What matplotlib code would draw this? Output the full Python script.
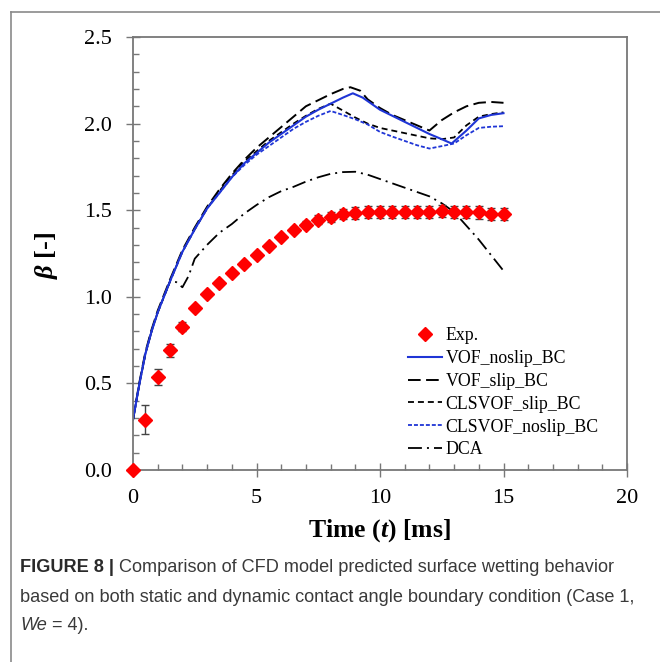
import matplotlib
matplotlib.use("Agg")
import matplotlib.pyplot as plt
from matplotlib.lines import Line2D

plt.rcParams['font.family'] = ['Liberation Serif', 'DejaVu Serif']
plt.rcParams['mathtext.fontset'] = 'custom'
plt.rcParams['mathtext.rm'] = 'Liberation Serif'
plt.rcParams['mathtext.it'] = 'Liberation Serif:italic'
plt.rcParams['mathtext.bf'] = 'Liberation Serif:bold'
plt.rcParams['mathtext.bfit'] = 'Liberation Serif:italic:bold'

# experimental data (beta vs time in ms)
t_exp = [0, 0.5, 1, 1.5, 2, 2.5, 3, 3.5, 4, 4.5, 5, 5.5, 6, 6.5, 7, 7.5, 8,
         8.5, 9, 9.5, 10, 10.5, 11, 11.5, 12, 12.5, 13, 13.5, 14, 14.5, 15]
beta_exp = [0.0, 0.29, 0.535, 0.69, 0.827, 0.933, 1.015, 1.077, 1.135, 1.192,
            1.244, 1.292, 1.344, 1.388, 1.415, 1.446, 1.462, 1.477, 1.485,
            1.488, 1.488, 1.488, 1.492, 1.492, 1.492, 1.496, 1.49, 1.492,
            1.487, 1.48, 1.477]
err_exp = [0.0, 0.085, 0.047, 0.037, 0.026, 0.012, 0.01, 0.01, 0.01, 0.01,
           0.01, 0.012, 0.012, 0.015, 0.02, 0.025, 0.028, 0.03, 0.035, 0.035,
           0.035, 0.035, 0.035, 0.035, 0.035, 0.035, 0.035, 0.035, 0.035,
           0.035, 0.035]

# model curves
t_vof_noslip = [0, 0.25, 0.5, 0.75, 1, 1.5, 2, 2.5, 3, 3.5, 4, 4.5, 5, 5.5, 6,
                6.5, 7, 7.5, 8, 8.5, 8.9, 9.3, 10, 10.5, 11, 11.5, 12, 12.5,
                12.9, 13.5, 14, 14.5, 15]
vof_noslip = [0.29, 0.49, 0.67, 0.80, 0.91, 1.09, 1.26, 1.39, 1.51, 1.60, 1.69,
              1.77, 1.83, 1.89, 1.94, 1.99, 2.04, 2.08, 2.115, 2.15, 2.175,
              2.15, 2.08, 2.045, 2.01, 1.975, 1.94, 1.91, 1.885, 1.96, 2.03,
              2.05, 2.06]

t_vof_slip = [0, 0.25, 0.5, 0.75, 1, 1.5, 2, 2.5, 3, 3.5, 4, 4.5, 5, 5.5, 6,
              6.5, 7, 7.5, 8, 8.5, 8.8, 9.2, 9.5, 10, 10.5, 11, 11.5, 12, 12.5,
              13, 13.5, 14, 14.5, 15]
vof_slip = [0.29, 0.50, 0.68, 0.81, 0.92, 1.10, 1.27, 1.40, 1.52, 1.62, 1.71,
            1.79, 1.86, 1.92, 1.98, 2.04, 2.10, 2.135, 2.17, 2.20, 2.21, 2.19,
            2.14, 2.09, 2.05, 2.02, 1.99, 1.96, 2.02, 2.065, 2.10, 2.12, 2.125,
            2.12]

t_clsvof_slip = [0, 0.25, 0.5, 0.75, 1, 1.5, 2, 2.5, 3, 3.5, 4, 4.5, 5, 5.5,
                 6, 6.5, 7, 7.5, 8, 8.5, 9, 9.5, 10, 10.5, 11, 11.5, 12, 12.5,
                 13, 13.5, 14, 14.5, 15]
clsvof_slip = [0.29, 0.49, 0.67, 0.80, 0.91, 1.09, 1.26, 1.39, 1.51, 1.61,
               1.70, 1.78, 1.84, 1.90, 1.95, 2.00, 2.045, 2.085, 2.115, 2.075,
               2.035, 2.0, 1.975, 1.96, 1.945, 1.93, 1.915, 1.91, 1.92, 1.99,
               2.04, 2.055, 2.065]

t_clsvof_noslip = [0, 0.25, 0.5, 0.75, 1, 1.5, 2, 2.5, 3, 3.5, 4, 4.5, 5, 5.5,
                   6, 6.5, 7, 7.5, 8, 8.5, 9, 9.5, 10, 10.5, 11, 11.5, 12,
                   12.5, 13, 13.5, 14, 14.5, 15]
clsvof_noslip = [0.29, 0.49, 0.67, 0.80, 0.91, 1.09, 1.26, 1.39, 1.51, 1.60,
                 1.69, 1.76, 1.82, 1.87, 1.92, 1.97, 2.01, 2.045, 2.073, 2.05,
                 2.025, 1.995, 1.952, 1.925, 1.90, 1.875, 1.856, 1.87, 1.885,
                 1.933, 1.975, 1.982, 1.985]

t_dca = [0, 0.25, 0.5, 0.75, 1, 1.5, 1.75, 2, 2.25, 2.5, 3, 3.5, 4, 4.5, 5,
         5.5, 6, 6.5, 7, 7.5, 8, 8.5, 9, 9.5, 10, 10.5, 11, 11.5, 12, 12.5, 13,
         13.5, 14, 14.5, 15]
dca = [0.29, 0.49, 0.67, 0.80, 0.91, 1.09, 1.085, 1.055, 1.12, 1.22, 1.30,
       1.37, 1.42, 1.48, 1.53, 1.575, 1.61, 1.635, 1.665, 1.69, 1.71, 1.72,
       1.722, 1.705, 1.68, 1.655, 1.63, 1.605, 1.58, 1.54, 1.49, 1.41, 1.33,
       1.24, 1.15]

blue = '#1f35d6'
grey = '#777777'

fig = plt.figure(figsize=(6.6, 6.62), dpi=100)
ax = fig.add_axes([133 / 660, 1 - 470 / 662, 494 / 660, 433 / 662])

ax.plot(t_dca, dca, color='black', lw=1.3, dashes=(7.7, 2.8, 1.1, 2.8))
ax.plot(t_clsvof_slip, clsvof_slip, color='black', lw=1.3, dashes=(3.3, 2.2))
ax.plot(t_vof_slip, vof_slip, color='black', lw=1.4, dashes=(6.5, 2.8))
ax.plot(t_clsvof_noslip, clsvof_noslip, color=blue, lw=1.3, dashes=(2.2, 1.1))
ax.plot(t_vof_noslip, vof_noslip, color=blue, lw=1.5)
ax.errorbar(t_exp, beta_exp, yerr=err_exp, fmt='D', color='red', ms=7,
            ecolor='#444444', elinewidth=1, capsize=3, capthick=1,
            zorder=5, clip_on=False)

ax.set_xlim(0, 20)
ax.set_ylim(0, 2.5)
ax.set_xticks([0, 5, 10, 15, 20])
ax.set_xticks(range(0, 21), minor=True)
ax.set_yticks([0, 0.5, 1.0, 1.5, 2.0, 2.5])
ax.set_yticks([i / 10 for i in range(26)], minor=True)
ax.set_yticklabels(['0.0', '0.5', '1.0', '1.5', '2.0', '2.5'])
for s in ax.spines.values():
    s.set_color(grey)
    s.set_linewidth(1.3)
ax.tick_params(which='major', direction='inout', length=10, width=1,
               color=grey, labelsize=16, labelcolor='black')
ax.tick_params(axis='y', which='major', pad=10)
ax.tick_params(axis='x', which='major', pad=9)
ax.tick_params(which='minor', direction='in', length=4, width=1, color=grey)

handles = [
    Line2D([], [], ls='none', marker='D', color='red', ms=7),
    Line2D([], [], color=blue, lw=1.5),
    Line2D([], [], color='black', lw=1.4, dashes=(6.5, 2.8)),
    Line2D([], [], color='black', lw=1.3, dashes=(3.3, 2.2)),
    Line2D([], [], color=blue, lw=1.3, dashes=(2.2, 1.1)),
    Line2D([], [], color='black', lw=1.3, dashes=(7.7, 2.8, 1.1, 2.8)),
]
labels = ['Exp.', 'VOF_noslip_BC', 'VOF_slip_BC', 'CLSVOF_slip_BC',
          'CLSVOF_noslip_BC', 'DCA']
ax.legend(handles, labels, loc='upper left', bbox_to_anchor=(0.557, 0.33),
          frameon=False, fontsize=12.8, handlelength=1.9, handletextpad=0.2,
          labelspacing=0.33, borderpad=0, borderaxespad=0)

fig.text(380 / 660, 1 - 531 / 662, r'Time ($\mathbfit{t}$) [ms]',
         fontsize=18.5, fontweight='bold', ha='center', va='center')
fig.text(47 / 660, 1 - 255 / 662, r'$\mathbfit{\beta}$ [-]', rotation=90,
         fontsize=19, fontweight='bold', ha='center', va='center')

# outer frame of the figure panel
fig.add_artist(Line2D([11 / 660, 11 / 660], [0, 1 - 12 / 662],
                      color='#8a8a8a', lw=1.2))
fig.add_artist(Line2D([11 / 660, 1], [1 - 12 / 662, 1 - 12 / 662],
                      color='#8a8a8a', lw=1.2))

# caption
cap_font = ['Liberation Sans', 'DejaVu Sans']
cap_size = 13.1
cap_color = '#3a3a3a'
renderer = fig.canvas.get_renderer()
x0 = 20 / 660
t1 = fig.text(x0, 1 - 568 / 662, 'FIGURE 8 |', family=cap_font,
              fontsize=cap_size, fontweight='bold', color='#2a2a2a',
              va='center')
w1 = t1.get_window_extent(renderer).width / 660
fig.text(x0 + w1, 1 - 568 / 662,
         ' Comparison of CFD model predicted surface wetting behavior',
         family=cap_font, fontsize=cap_size, color=cap_color, va='center')
fig.text(x0, 1 - 597 / 662,
         'based on both static and dynamic contact angle boundary condition (Case 1,',
         family=cap_font, fontsize=cap_size, color=cap_color, va='center')
t3 = fig.text(x0, 1 - 626 / 662, 'We', family=cap_font, fontsize=cap_size,
              style='italic', color=cap_color, va='center')
w3 = t3.get_window_extent(renderer).width / 660
fig.text(x0 + w3, 1 - 626 / 662, ' = 4).', family=cap_font,
         fontsize=cap_size, color=cap_color, va='center')

fig.savefig('out.png', dpi=100)
